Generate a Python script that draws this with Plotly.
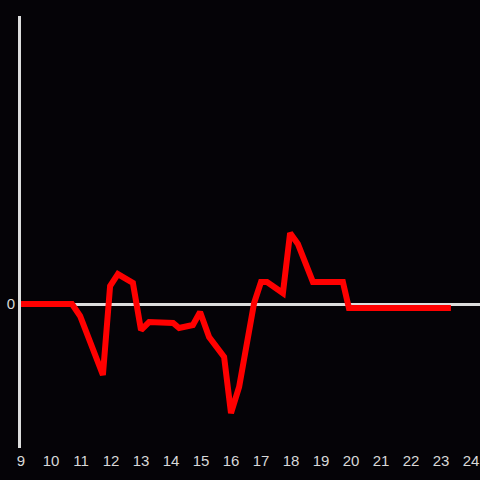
import plotly.graph_objects as go

hours = [9, 10.7, 10.97, 11.27, 11.73, 11.97, 12.23, 12.73, 13.0, 13.27, 14.07, 14.27,
         14.73, 14.97, 15.27, 15.77, 16.0, 16.27, 16.77, 17.0, 17.2, 17.73, 17.97, 18.23,
         18.73, 19.73, 19.93, 23.33]
values = [0, 0, -0.83, -2.5, -4.93, 1.25, 2.08, 1.46, -1.81, -1.25, -1.32, -1.67,
          -1.46, -0.56, -2.29, -3.68, -7.57, -5.76, 0.07, 1.53, 1.53, 0.76, 4.93, 4.17,
          1.53, 1.53, -0.28, -0.28]
x_ticks = list(range(9, 25))

fig = go.Figure(go.Scatter(x=hours, y=values, mode="lines",
                           line=dict(color="#ff0000", width=6)))

bg = "#050307"
fig.update_layout(
    width=480, height=480,
    margin=dict(l=21, r=0, t=16, b=32),
    paper_bgcolor=bg, plot_bgcolor=bg,
    showlegend=False,
    font=dict(family="Liberation Sans, Arial, sans-serif", size=15, color="#d8d8d8"),
)
fig.update_xaxes(range=[9, 24.3], tickvals=x_ticks, ticktext=[str(t) for t in x_ticks],
                 showgrid=False, zeroline=False, showline=False, ticks="",
                 ticklabelstandoff=2)
fig.update_yaxes(range=[-10, 20], tickvals=[0], ticktext=["0"], showgrid=False,
                 zeroline=True, zerolinecolor="#dddddd", zerolinewidth=3,
                 showline=True, linecolor="#dddddd", linewidth=3, ticks="")
fig.write_html("out.html", config={"displayModeBar": False},
               post_script="document.body.style.margin='0';document.body.style.overflow='hidden';document.body.style.background='" + bg + "';")
